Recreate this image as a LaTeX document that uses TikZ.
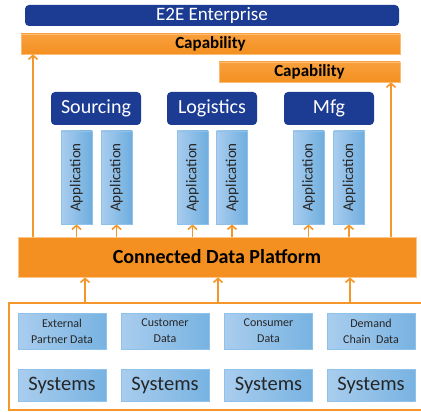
\documentclass[tikz,border=0pt]{standalone}
\usepackage{fontspec}
\setmainfont{Carlito}
\usetikzlibrary{arrows.meta}
\definecolor{dblue}{HTML}{1C3C94}
\definecolor{lblueA}{HTML}{A9CDEE}
\definecolor{lblueB}{HTML}{6FAEDF}
\definecolor{lborder}{HTML}{8EC2EA}
\definecolor{orA}{HTML}{F9A03C}
\definecolor{orB}{HTML}{F39021}
\definecolor{orline}{HTML}{F5962B}
\tikzset{
  darkbox/.style={fill=dblue, rounded corners=4pt, text=white, inner sep=0pt},
  capbox/.style={top color=orA, bottom color=orB, draw=orA!70!white, line width=0.6pt, font=\bfseries\fontsize{17}{19}\selectfont, text=black, inner sep=0pt, minimum height=20pt},
  appbox/.style={left color=lblueA, right color=lblueB, draw=lborder, line width=0.8pt, minimum width=31pt, minimum height=93pt, inner sep=0pt},
  databox/.style={left color=lblueA, right color=lblueB!85!lblueA, draw=lborder, line width=0.8pt, minimum width=88pt, inner sep=0pt, text=black!85},
  arr/.style={draw=orline, line width=1.6pt, -{Straight Barb[length=4pt,width=9pt,line width=1.6pt]}},
}
\begin{document}
\begin{tikzpicture}[x=1pt,y=-1pt]
\useasboundingbox (0,0) rectangle (421,412);
\fill[white] (0,0) rectangle (421,412);
% top bars
\node[darkbox, minimum width=374pt, minimum height=21pt, font=\fontsize{19}{21}\selectfont] (e2e) at (212,15.5) {E2E Enterprise};
\node[capbox, minimum width=379pt] (cap1) at (210.5,44) {Capability};
\node[capbox, minimum width=181pt] (cap2) at (309.5,72) {Capability};
% domains
\node[darkbox, minimum width=90pt, minimum height=33pt, font=\fontsize{20}{22}\selectfont] (src) at (96,108.5) {Sourcing};
\node[darkbox, minimum width=90pt, minimum height=33pt, font=\fontsize{20}{22}\selectfont] (log) at (212,108.5) {Logistics};
\node[darkbox, minimum width=90pt, minimum height=33pt, font=\fontsize{20}{22}\selectfont] (mfg) at (329,108.5) {Mfg};
% applications
\foreach \n/\x in {a1/76.5,a2/116.5,a3/192.5,a4/232,a5/308.5,a6/349}{
  \node[appbox] (\n) at (\x,177.5) {};
  \node[rotate=90, font=\fontsize{15}{16}\selectfont, text=black!85, inner sep=0pt] (\n t) at (\n.center) {Application};
}
% platform
\node[fill=orB, draw=orA!60!white, line width=0.8pt, minimum width=398pt, minimum height=40pt, inner sep=0pt, font=\bfseries\fontsize{20}{22}\selectfont] (plat) at (217,257) {Connected Data Platform};
% base box
\node[draw=orline, line width=1.6pt, minimum width=416pt, minimum height=107pt, inner sep=0pt] (base) at (217,356.5) {};
% data boxes
\foreach \n/\x/\t in {d1/62/{External\\Partner Data},d2/165/{Customer\\Data},d3/268.5/{Consumer\\Data},d4/371/{Demand\\Chain\ \ Data}}{
  \node[databox, minimum height=36pt, align=center, font=\fontsize{12}{16}\selectfont] (\n) at (\x,331) {\t};
}
\foreach \n/\x in {s1/62,s2/165,s3/268.5,s4/371}{
  \node[databox, minimum height=32pt, font=\fontsize{20.5}{22}\selectfont] (\n) at (\x,385) {Systems};
}
% arrows platform -> apps
\foreach \n in {a1,a2,a3,a4,a5,a6}{
  \draw[arr] (\n.south |- plat.north) -- (\n.south);
}
\coordinate (L) at (33,0);
\coordinate (R) at (391,0);
\draw[arr] (L |- plat.north) -- (L |- cap1.south);
\draw[arr] (R |- plat.north) -- (R |- cap2.south);
% base -> platform
\coordinate (b1) at (85,0);
\coordinate (b2) at (218,0);
\coordinate (b3) at (350,0);
\foreach \c in {b1,b2,b3}{
  \draw[arr] (\c |- base.north) -- (\c |- plat.south);
}
\end{tikzpicture}
\end{document}
